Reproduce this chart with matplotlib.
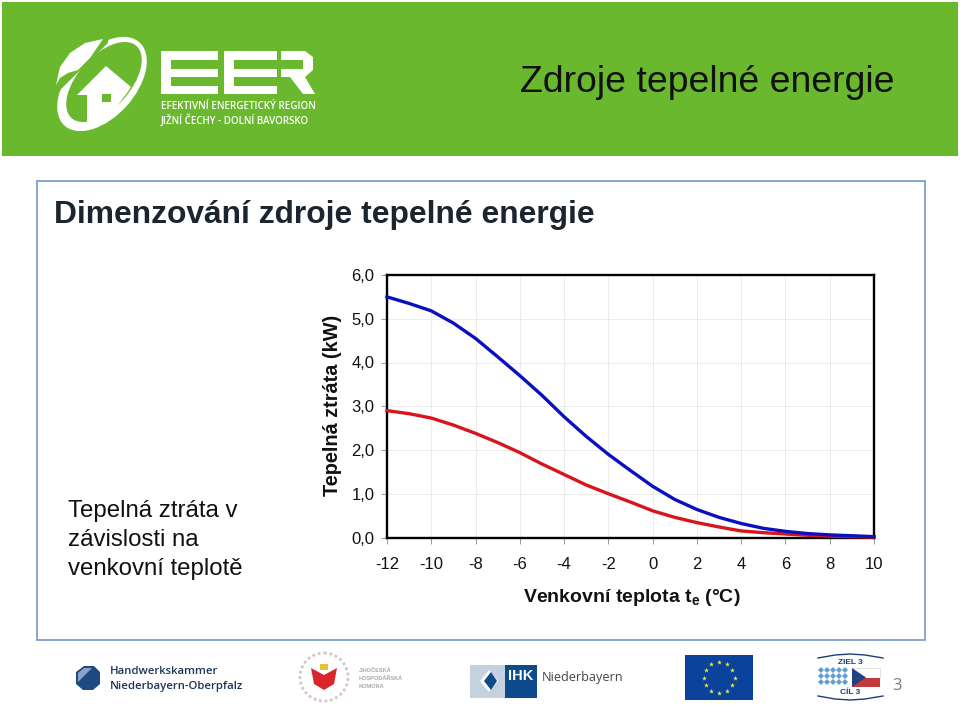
import numpy as np
import matplotlib
matplotlib.use('Agg')
import matplotlib.pyplot as plt
from matplotlib.patches import Rectangle, Ellipse, Polygon, Circle

plt.rcParams['font.family'] = ['Liberation Sans', 'DejaVu Sans']
plt.rcParams['mathtext.fontset'] = 'custom'
plt.rcParams['mathtext.bf'] = 'Liberation Sans:bold'
plt.rcParams['axes.unicode_minus'] = False

# values
temperature = [-12, -11, -10, -9, -8, -7, -6, -5, -4, -3, -2, -1, 0, 1, 2, 3, 4, 5, 6, 7, 8, 9, 10]
loss_blue = [5.50, 5.35, 5.18, 4.90, 4.55, 4.13, 3.70, 3.25, 2.76, 2.31, 1.90, 1.53, 1.17, 0.87, 0.64, 0.46, 0.32, 0.21, 0.14, 0.09, 0.06, 0.04, 0.02]
loss_red = [2.90, 2.83, 2.73, 2.57, 2.38, 2.17, 1.94, 1.68, 1.44, 1.20, 1.00, 0.81, 0.61, 0.46, 0.34, 0.24, 0.15, 0.11, 0.08, 0.05, 0.03, 0.02, 0.01]
x_ticks = [-12, -10, -8, -6, -4, -2, 0, 2, 4, 6, 8, 10]
y_ticks = [0, 1, 2, 3, 4, 5, 6]
y_tick_labels = ['0,0', '1,0', '2,0', '3,0', '4,0', '5,0', '6,0']

GREEN = '#69b82d'
W, H = 960, 707

fig = plt.figure(figsize=(9.6, 7.07), dpi=100, facecolor='white')

# slide background in pixel coordinates
bg = fig.add_axes([0, 0, 1, 1], zorder=0)
bg.set_xlim(0, W)
bg.set_ylim(H, 0)
bg.axis('off')

bg.add_patch(Rectangle((2, 2), 956, 154, fc=GREEN, ec='none'))
bg.add_patch(Rectangle((36.5, 180.5), 888, 459, fc='white', ec='#7f9fc8', lw=1.3))

# EER logo
bg.add_patch(Ellipse((102, 84), 112, 66, angle=-48, fc='white', ec='none'))
bg.add_patch(Ellipse((104, 82), 97, 52, angle=-48, fc=GREEN, ec='none'))
bg.add_patch(Polygon([(48, 30), (108, 30), (108, 43), (58, 92), (48, 95)], fc=GREEN, ec='none'))
bg.add_patch(Polygon([(103, 39), (85, 43), (70, 53), (60, 67), (56, 85), (60, 78), (68, 73), (78, 70), (90, 58)], fc='white', ec='none'))
bg.add_patch(Polygon([(106, 66), (131, 87), (127, 93), (108, 118), (87, 123), (87, 95), (77, 95)], fc='white', ec='none'))
bg.add_patch(Rectangle((102, 94), 9, 8, fc=GREEN, ec='none'))
for x0, x1 in [(161, 218), (224, 277)]:
    bg.add_patch(Rectangle((x0, 51), x1 - x0, 43, fc='white', ec='none'))
    bg.add_patch(Rectangle((x0 + 10, 59.5), x1 - x0 - 9, 9.5, fc=GREEN, ec='none'))
    bg.add_patch(Rectangle((x0 + 10, 77), x1 - x0 - 9, 9, fc=GREEN, ec='none'))
bg.add_patch(Polygon([(281, 51), (305, 51), (313, 57), (313, 70), (305, 77), (315, 94), (303, 94), (290, 77), (281, 77)], fc='white', ec='none'))
bg.add_patch(Polygon([(281, 59.5), (303, 59.5), (303, 69), (281, 69)], fc=GREEN, ec='none'))
bg.text(161, 106.5, 'EFEKTIVNÍ ENERGETICKÝ REGION', color='white', fontsize=7.1, family='Open Sans', weight='semibold', va='center')
bg.text(161, 121, 'JIŽNÍ ČECHY - DOLNÍ BAVORSKO', color='white', fontsize=7.0, family='Open Sans', weight='semibold', va='center')

bg.text(520, 82, 'Zdroje tepelné energie', fontsize=26.9, color='#111111', va='center')
bg.text(54, 215, 'Dimenzování zdroje tepelné energie', fontsize=22.9, weight='bold', color='#1a2530', va='center')
for y, line in zip([511, 540, 569], ['Tepelná ztráta v', 'závislosti na', 'venkovní teplotě']):
    bg.text(68, y, line, fontsize=17.3, color='#111111', va='center')

# footer logos
bg.add_patch(Polygon([(84, 666), (94, 666), (100, 672), (100, 684), (93, 690), (83, 690), (76, 684), (76, 672)], fc='#1d4a80', ec='none'))
bg.add_patch(Polygon([(84, 668), (92, 668), (78, 682), (78, 673)], fc='#8ba2c0', ec='none'))
bg.text(110, 672, 'Handwerkskammer', fontsize=8.2, weight='semibold', family='Open Sans', color='#1d3557', va='center')
bg.text(110, 686, 'Niederbayern-Oberpfalz', fontsize=8.2, weight='semibold', family='Open Sans', color='#1d3557', va='center')

bg.add_patch(Circle((324, 677), 24, fc='none', ec='#d8c4c4', lw=2, ls=(0, (1, 1))))
bg.add_patch(Polygon([(311, 668), (324, 675), (337, 668), (334, 684), (324, 690), (314, 684)], fc='#d9262c', ec='none'))
bg.add_patch(Rectangle((320, 664), 8, 6, fc='#e8c33a', ec='none'))
for y, line in zip([670, 678, 686], ['JIHOČESKÁ', 'HOSPODÁŘSKÁ', 'KOMORA']):
    bg.text(359, y, line, fontsize=4.1, weight='bold', color='#a8a8a8', va='center')

bg.add_patch(Rectangle((470, 665), 35, 33, fc='#c6d1e0', ec='none'))
bg.add_patch(Rectangle((505, 665), 32, 33, fc='#0d4a8c', ec='none'))
bg.add_patch(Polygon([(480, 681), (489, 670), (498, 681), (489, 692)], fc='white', ec='none'))
bg.add_patch(Polygon([(484, 681), (491, 672), (497, 681), (491, 690)], fc='#0d4a8c', ec='none'))
bg.text(508, 676, 'IHK', fontsize=10.5, weight='bold', color='white', va='center')
bg.text(542, 677, 'Niederbayern', fontsize=9.1, family='Open Sans', color='#444444', va='center')

bg.add_patch(Rectangle((685, 655), 68, 45, fc='#0b429c', ec='none'))
angles = np.deg2rad(np.arange(0, 360, 30))
bg.scatter(719 + 15.5 * np.cos(angles), 677.5 + 15.5 * np.sin(angles), marker='*', s=14, c='#f2e63c', linewidths=0)

bg.text(850, 662, 'ZIEL 3', fontsize=6, weight='bold', color='#1d3c7a', ha='center', va='center')
bg.text(850, 692, 'CÍL 3', fontsize=6, weight='bold', color='#1d3c7a', ha='center', va='center')
bg.add_patch(Rectangle((819, 668), 27, 19, fc='white', ec='none'))
for cx in range(821, 846, 6):
    for cy in range(670, 687, 6):
        bg.add_patch(Polygon([(cx - 3, cy), (cx, cy - 3), (cx + 3, cy), (cx, cy + 3)], fc='#5f9fd6', ec='none'))
bg.add_patch(Rectangle((852, 668), 28, 9.5, fc='white', ec='#cccccc', lw=0.4))
bg.add_patch(Rectangle((852, 677.5), 28, 9.5, fc='#c23a3a', ec='none'))
bg.add_patch(Polygon([(852, 668), (866, 677.5), (852, 687)], fc='#23407f', ec='none'))
bg.plot([818, 835, 850, 865, 883], [658, 655, 654, 655, 658], color='#1d3c7a', lw=1)
bg.plot([818, 835, 850, 865, 883], [696, 699, 700, 699, 696], color='#1d3c7a', lw=1)
bg.text(897, 686, '3', fontsize=12, family='Open Sans', color='#7a7a7a', ha='center', va='center')

# chart
ax = fig.add_axes([387 / W, 1 - 537.5 / H, 487 / W, 262.5 / H], zorder=1)
ax.plot(temperature, loss_red, color='#d8141c', lw=2.4, solid_joinstyle='round', clip_on=False, zorder=3)
ax.plot(temperature, loss_blue, color='#0a0fc0', lw=2.4, solid_joinstyle='round', clip_on=False, zorder=4)
ax.set_xlim(-12, 10)
ax.set_ylim(0, 6)
ax.set_xticks(x_ticks)
ax.set_yticks(y_ticks)
ax.set_yticklabels(y_tick_labels)
ax.grid(True, color='#ececec', lw=0.7)
ax.set_axisbelow(True)
for s in ax.spines.values():
    s.set_linewidth(1.7)
    s.set_color('black')
ax.tick_params(axis='x', length=4, width=0.7, color='#999999', labelsize=12, pad=10, labelcolor='#111111')
ax.tick_params(axis='y', length=4, width=0.7, color='#999999', labelsize=12, pad=5, labelcolor='#111111')

bg.text(332, 405, 'Tepelná ztráta (kW)', fontsize=14.3, weight='bold', rotation=90, ha='center', va='center', color='#111111')
bg.text(632, 598, 'Venkovní teplota t$_{\\mathbf{e}}$ (°C)', fontsize=14, weight='bold', ha='center', va='center', color='#111111')

fig.savefig('out.png', dpi=100)
